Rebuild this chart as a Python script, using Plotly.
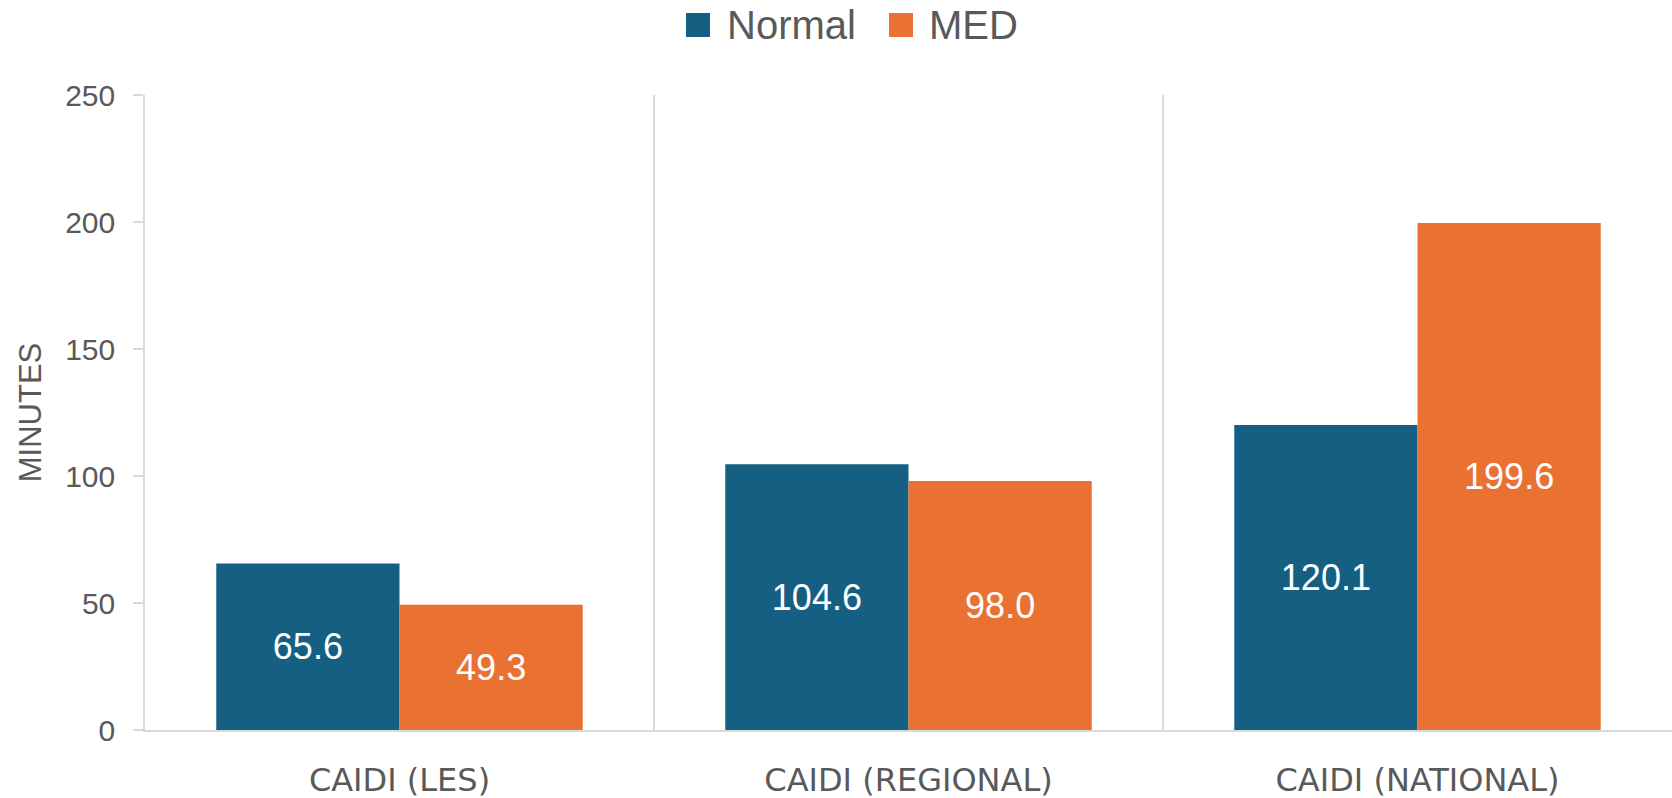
import plotly.graph_objects as go

categories = ["CAIDI (LES)", "CAIDI (REGIONAL)", "CAIDI (NATIONAL)"]
normal_values = [65.6, 104.6, 120.1]
med_values = [49.3, 98.0, 199.6]
series_names = ["Normal", "MED"]
series_colors = ["#156082", "#E97132"]
y_ticks = [0, 50, 100, 150, 200, 250]

W, H = 1672, 798
L, R, T, B = 145, 0, 95, 68
pw = W - L - R
ph = H - T - B

FONT = "Liberation Sans, Arial, sans-serif"
CAT_FONT = "DejaVu Sans, Liberation Sans, sans-serif"
GREY = "#595959"
LINE = "#d9d9d9"

fig = go.Figure()
for name, vals, col in zip(series_names, [normal_values, med_values], series_colors):
    fig.add_trace(go.Bar(
        x=categories, y=vals, name=name, marker=dict(color=col, line=dict(width=0)),
        texttemplate="%{y:.1f}", textposition="inside", insidetextanchor="middle",
        textfont=dict(family=FONT, size=36, color="white"), textangle=0,
        constraintext="none", showlegend=False, cliponaxis=False,
    ))

fig.update_layout(
    width=W, height=H, barmode="group", bargap=0.28, bargroupgap=0,
    margin=dict(l=L, r=R, t=T, b=B, pad=0),
    paper_bgcolor="white", plot_bgcolor="white",
    font=dict(family=FONT, color=GREY),
    xaxis=dict(
        type="category", tickson="boundaries", showgrid=True, gridcolor=LINE, gridwidth=1.5,
        showline=True, linecolor=LINE, linewidth=2, ticks="", range=[-0.5, 2.5],
        tickfont=dict(family=CAT_FONT, size=32, color=GREY), ticklabelstandoff=21,
        zeroline=False,
    ),
    yaxis=dict(
        range=[0, 250], tickvals=y_ticks, showgrid=False, zeroline=False,
        showline=True, linecolor=LINE, linewidth=1.5, ticks="outside", ticklen=10,
        tickcolor=LINE, tickwidth=1.5,
        tickfont=dict(family=FONT, size=30, color=GREY), ticklabelstandoff=12,
        title=dict(text="MINUTES", font=dict(family=FONT, size=31, color=GREY), standoff=14),
    ),
)

# manual legend (large symbols as in the reference)
def px_x(px):
    return (px - L) / pw

def px_y(py):
    return (H - B - py) / ph

legend_items = [(686, 725), (889, 927)]
for (sx, tx), name, col in zip(legend_items, series_names, series_colors):
    fig.add_shape(type="rect", xref="paper", yref="paper",
                  x0=px_x(sx), x1=px_x(sx + 24), y0=px_y(37), y1=px_y(13),
                  fillcolor=col, line=dict(width=0))
    fig.add_annotation(xref="paper", yref="paper", x=px_x(tx), y=px_y(25),
                       text=name, showarrow=False, xanchor="left", yanchor="middle",
                       font=dict(family=FONT, size=40, color=GREY))

fig.write_html("out.html", config={"displayModeBar": False},
               post_script="document.body.style.margin='0px';")
